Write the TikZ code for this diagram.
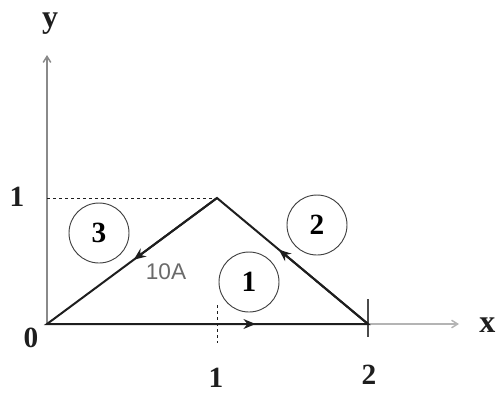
\documentclass[tikz,border=0pt]{standalone}
\usepackage{fontspec}
\setmainfont{Liberation Serif}
\newfontfamily\arialfont{Liberation Sans}
\usepackage{tikz}
\usepackage{xcolor}
\usetikzlibrary{arrows.meta,positioning,calc}
\definecolor{ink}{HTML}{1E1E1E}
\definecolor{axisgray}{HTML}{8A8A8A}
\definecolor{axislight}{HTML}{B4B4B4}
\definecolor{labelgray}{HTML}{6A6A6A}
\tikzset{
  wire/.style={draw=ink,line width=1.5pt},
  wirearr/.style={-{Stealth[length=3.2mm,width=2.6mm]},draw=ink,line width=1.5pt},
  axis/.style={-{Straight Barb[length=1.6mm,width=2mm]},line width=1.1pt},
  guide/.style={draw=ink,dashed,line width=0.7pt,dash pattern=on 2.5pt off 2pt},
  loopnum/.style={draw=ink!85,circle,line width=0.7pt,minimum size=45pt,inner sep=0pt,
                  font=\fontsize{22}{24}\selectfont\bfseries},
  ticklabel/.style={font=\fontsize{22}{24}\selectfont\bfseries,text=ink,inner sep=0pt},
  axislabel/.style={font=\fontsize{24}{26}\selectfont\bfseries,text=ink,inner sep=0pt}
}

\begin{document}
\begin{tikzpicture}[x=0.75pt,y=-0.75pt]
      \useasboundingbox (0,0) rectangle (496,394);
      % corner points of the loop
      \coordinate (O) at (47,324);
      \coordinate (A) at (217,198);
      \coordinate (B) at (368,324);
      \coordinate (ytip) at (47,55);
      \coordinate (xtip) at (459,324);
      % axes
      \draw[axis,axisgray] (O) -- (ytip);
      \draw[axis,axislight] (B) -- (xtip);
      \node[axislabel] (ylab) at (50,24) {y};
      \node[axislabel,anchor=west] (xlab) at (479,325) {x};
      % guides and ticks
      \coordinate (Ay) at (47,198);
      \draw[guide] (Ay) -- (A);
      \draw[guide] (217,305) -- (217,343);
      \draw[ink!80,line width=1pt] (368,299) -- (368,337);
      \node[ticklabel] (one-y) at (17,197) {1};
      \node[ticklabel] (zero) at (31,338) {0};
      \node[ticklabel] (one-x) at (216,378) {1};
      \node[ticklabel] (two-x) at (369,375) {2};
      % loop sides
      \draw[wire] (O) -- (B) -- (A) -- cycle;
      \draw[wirearr] (O) -- ($(O)!0.65!(B)$);
      \draw[wirearr] (B) -- ($(B)!0.59!(A)$);
      \draw[wirearr] (A) -- ($(A)!0.49!(O)$);
      \node[font=\arialfont\fontsize{17}{19}\selectfont,text=labelgray] (cur) at (166,272) {10A};
      % section numbers
      \node[loopnum] (s1) at (249,282) {1};
      \node[loopnum] (s2) at (317,225) {2};
      \node[loopnum] (s3) at (99,233) {3};
    \end{tikzpicture}
\end{document}
